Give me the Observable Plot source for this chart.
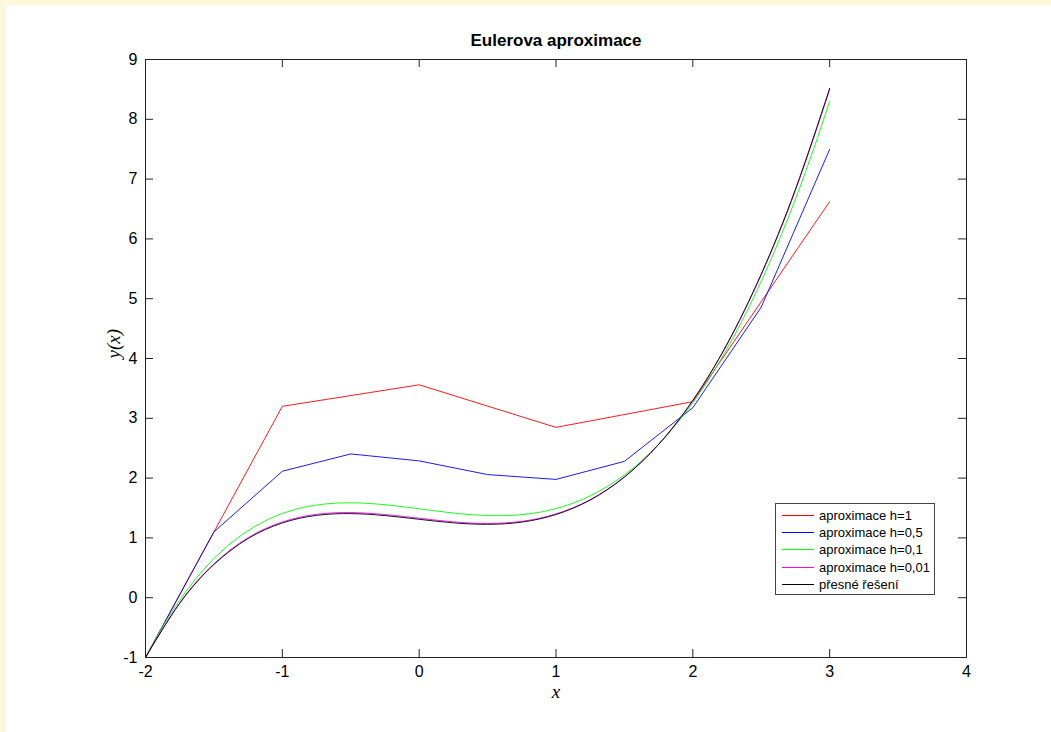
<!DOCTYPE html>
<html>
<head>
<meta charset="utf-8">
<script src="https://cdn.jsdelivr.net/npm/d3@7"></script>
<script src="https://cdn.jsdelivr.net/npm/@observablehq/plot@0.6"></script>
<style>
  html, body { margin: 0; padding: 0; }
  body { background: #fdf7dc; font-family: Arial, "Liberation Sans", sans-serif; }
  #wrap { position: relative; width: 1051px; height: 732px; overflow: hidden; }
  #white { position: absolute; left: 6px; top: 5px; right: 0; bottom: 0; background: #fff; }
  #chart { position: absolute; left: 0; top: 0; }
  #legend { position: absolute; left: 775px; top: 503px; }
</style>
</head>
<body>
<div id="wrap">
  <div id="white"></div>
  <div id="chart"></div>
  <div id="legend"></div>
</div>
<script>
// ---------- data ----------
const titleText = "Eulerova aproximace";
const xLabel = "x";
const yLabel = "y(x)";
const xTicks = [-2, -1, 0, 1, 2, 3, 4];
const yTicks = [-1, 0, 1, 2, 3, 4, 5, 6, 7, 8, 9];

const seriesNames = ["aproximace h=1", "aproximace h=0,5", "aproximace h=0,1", "aproximace h=0,01", "přesné řešení"];
const seriesColors = ["#ff0000", "#0000ff", "#00ff00", "#ff00ff", "#000000"];

// h = 1
const xH1 = [-2, -1, 0, 1, 2, 3];
const yH1 = [-1, 3.2, 3.56, 2.848, 3.278, 6.623];

// h = 0.5
const xH05 = [-2, -1.5, -1, -0.5, 0, 0.5, 1, 1.5, 2, 2.5, 3];
const yH05 = [-1, 1.1, 2.115, 2.404, 2.288, 2.059, 1.978, 2.28, 3.177, 4.859, 7.498];

// h = 0.1
const xH01 = [-2, -1.9, -1.8, -1.7, -1.6, -1.5, -1.4, -1.3, -1.2, -1.1, -1, -0.9, -0.8, -0.7, -0.6, -0.5, -0.4, -0.3, -0.2, -0.1,
              0, 0.1, 0.2, 0.3, 0.4, 0.5, 0.6, 0.7, 0.8, 0.9, 1, 1.1, 1.2, 1.3, 1.4, 1.5, 1.6, 1.7, 1.8, 1.9,
              2, 2.1, 2.2, 2.3, 2.4, 2.5, 2.6, 2.7, 2.8, 2.9, 3];
const yH01 = [-1, -0.58, -0.207, 0.121, 0.407, 0.655, 0.867, 1.046, 1.194, 1.314, 1.409, 1.481, 1.532, 1.565, 1.583, 1.587, 1.581, 1.565, 1.543, 1.516,
              1.486, 1.457, 1.429, 1.404, 1.385, 1.373, 1.371, 1.379, 1.401, 1.437, 1.489, 1.559, 1.649, 1.76, 1.894, 2.052, 2.236, 2.447, 2.687, 2.958,
              3.259, 3.594, 3.963, 4.368, 4.81, 5.29, 5.809, 6.369, 6.97, 7.615, 8.303];

// h = 0.01 and exact solution (read at quarter steps)
const xQ = [-2, -1.75, -1.5, -1.25, -1, -0.75, -0.5, -0.25, 0, 0.25, 0.5, 0.75, 1, 1.25, 1.5, 1.75, 2, 2.25, 2.5, 2.75, 3];
const yH001 = [-1, -0.089, 0.565, 1.003, 1.266, 1.394, 1.424, 1.391, 1.329, 1.268, 1.242, 1.277, 1.401, 1.64, 2.021, 2.564, 3.295, 4.234, 5.4, 6.815, 8.496];
const yExact = [-1, -0.094, 0.555, 0.99, 1.25, 1.377, 1.406, 1.373, 1.311, 1.252, 1.227, 1.264, 1.391, 1.633, 2.017, 2.564, 3.299, 4.241, 5.412, 6.831, 8.517];

// ---------- build tables ----------
const zip = (xs, ys) => xs.map((x, i) => ({x, y: ys[i]}));
const tables = [
  {data: zip(xH1, yH1), curve: "linear"},
  {data: zip(xH05, yH05), curve: "linear"},
  {data: zip(xH01, yH01), curve: "linear"},
  {data: zip(xQ, yH001), curve: "natural"},
  {data: zip(xQ, yExact), curve: "natural"}
];

const W = 1051, H = 732;
const mL = 145, mR = 85, mT = 59, mB = 75;
const innerW = W - mL - mR, innerH = H - mT - mB;
const tickLen = 8;
const font = "Arial, 'Liberation Sans', sans-serif";
const serif = "'Liberation Serif', 'DejaVu Serif', serif";

const plot = Plot.plot({
  width: W,
  height: H,
  marginLeft: mL, marginRight: mR, marginTop: mT, marginBottom: mB,
  style: {background: "transparent", fontFamily: font, color: "#000", overflow: "visible"},
  x: {domain: [-2, 4], label: null},
  y: {domain: [-1, 9], label: null},
  marks: [
    // series
    ...tables.map((t, i) => Plot.line(t.data, {x: "x", y: "y", stroke: seriesColors[i], strokeWidth: 0.9, curve: t.curve})),
    // inward ticks: bottom / top
    Plot.tickX(xTicks, {x: d => d, insetTop: innerH - tickLen, stroke: "#222"}),
    Plot.tickX(xTicks, {x: d => d, insetBottom: innerH - tickLen, stroke: "#222"}),
    // inward ticks: left / right
    Plot.tickY(yTicks, {y: d => d, insetRight: innerW - tickLen, stroke: "#222"}),
    Plot.tickY(yTicks, {y: d => d, insetLeft: innerW - tickLen, stroke: "#222"}),
    Plot.frame({stroke: "#222", strokeWidth: 1}),
    // tick labels
    Plot.axisX({anchor: "bottom", ticks: xTicks, tickSize: 0, tickPadding: 8, fontSize: 16, label: null, tickFormat: d => String(d)}),
    Plot.axisY({anchor: "left", ticks: yTicks, tickSize: 0, tickPadding: 8, fontSize: 16, label: null, tickFormat: d => String(d)}),
    // title and axis labels
    Plot.text([titleText], {text: d => d, frameAnchor: "top", lineAnchor: "middle", dy: -19, fontSize: 17, fontWeight: "bold", fontFamily: font, fill: "#000"}),
    Plot.text([xLabel], {text: d => d, frameAnchor: "bottom", lineAnchor: "middle", dy: 34, fontSize: 19, fontStyle: "italic", fontFamily: serif, fill: "#000"}),
    Plot.text([yLabel], {text: d => d, frameAnchor: "left", lineAnchor: "middle", dx: -32, rotate: -90, fontSize: 19, fontStyle: "italic", fontFamily: serif, fill: "#000"})
  ]
});
document.getElementById("chart").appendChild(plot);

// legend (small SVG overlay)
const lw = 160, lh = 92, rowH = 17.2;
const lsvg = d3.select("#legend").append("svg").attr("width", lw).attr("height", lh);
lsvg.append("rect").attr("x", 0.5).attr("y", 0.5).attr("width", lw - 1).attr("height", lh - 1)
  .attr("fill", "#fff").attr("stroke", "#444").attr("stroke-width", 1);
const rows = lsvg.selectAll("g.row").data(seriesNames).join("g")
  .attr("class", "row")
  .attr("transform", (d, i) => `translate(0,${Math.round(12 + i * rowH) + 0.5})`);
rows.append("line").attr("x1", 7).attr("x2", 39).attr("y1", 0).attr("y2", 0)
  .attr("stroke", (d, i) => seriesColors[i]).attr("stroke-width", 1);
rows.append("text").attr("x", 44).attr("y", 0).attr("dy", "0.35em")
  .attr("font-family", font).attr("font-size", 13).attr("fill", "#000").text(d => d);
</script>
</body>
</html>
